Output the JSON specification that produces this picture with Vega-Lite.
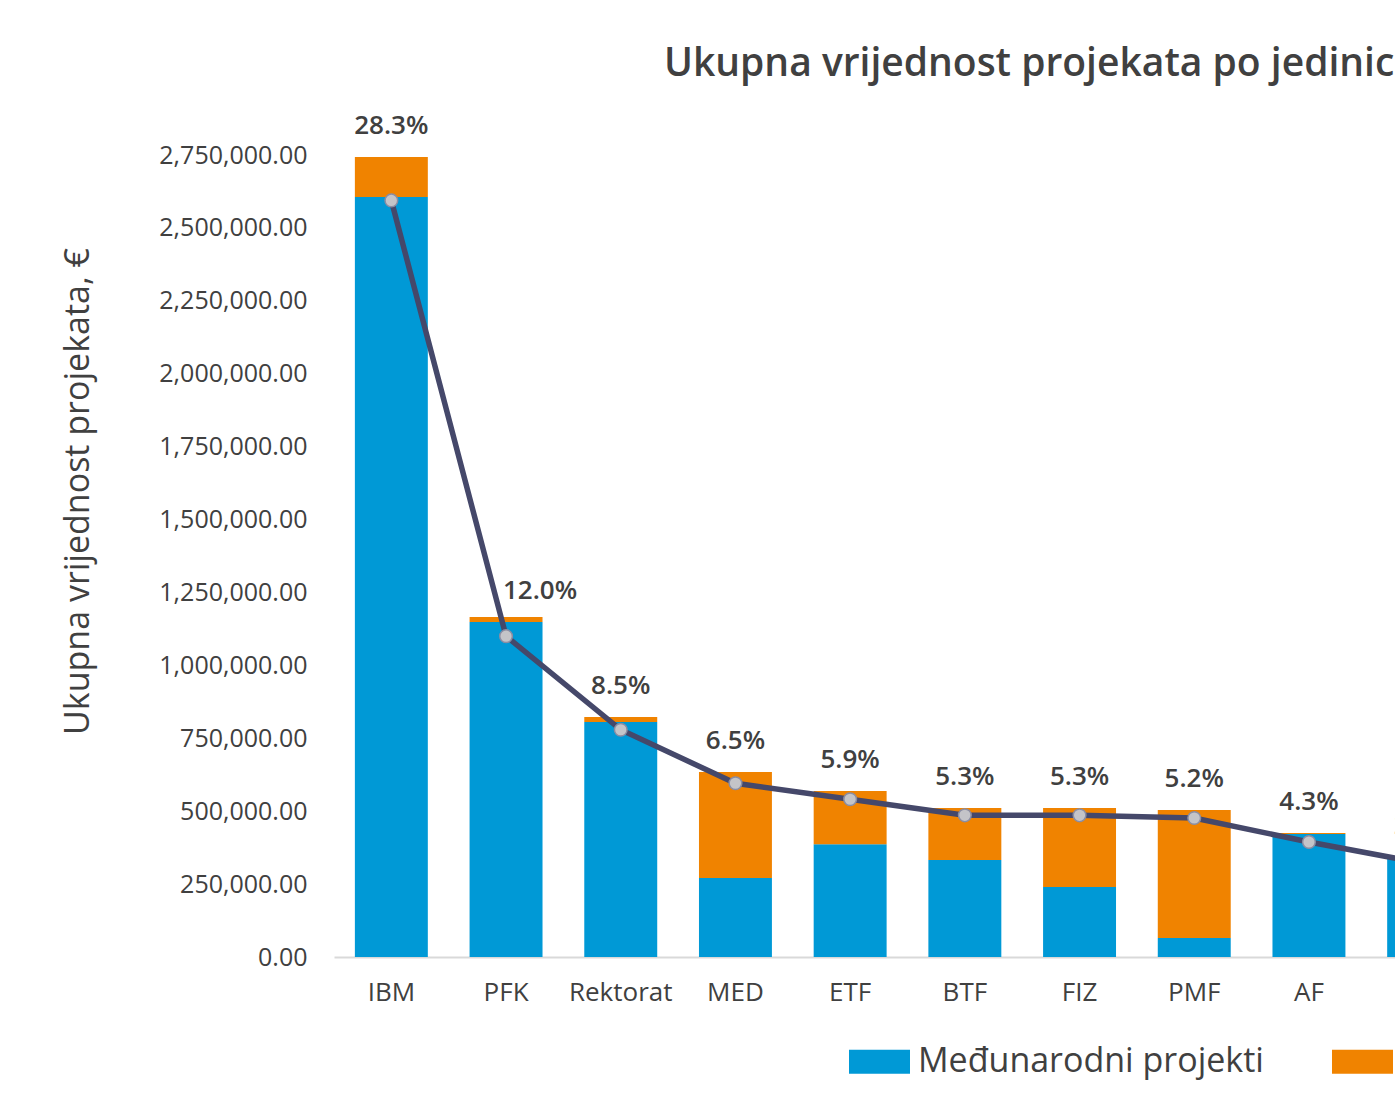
{
  "$schema": "https://vega.github.io/schema/vega-lite/v6.json",
  "autosize": {"type": "none"},
  "width": 1061,
  "height": 802,
  "padding": {"left": 334, "top": 155, "right": 0, "bottom": 152},
  "background": "white",
  "title": {
    "text": "Ukupna vrijednost projekata po jedinici",
    "anchor": "start",
    "frame": "group",
    "dx": 330,
    "dy": -25,
    "fontSize": 39,
    "font": "Open Sans",
    "fontWeight": 600,
    "color": "#404040"
  },
  "datasets": {
    "vrste": [
      {"jedinica": "IBM", "vrsta": "Međunarodni projekti", "rb": 1, "iznos": 2606000},
      {"jedinica": "IBM", "vrsta": "Domaći projekti", "rb": 2, "iznos": 137000},
      {"jedinica": "PFK", "vrsta": "Međunarodni projekti", "rb": 1, "iznos": 1149000},
      {"jedinica": "PFK", "vrsta": "Domaći projekti", "rb": 2, "iznos": 17000},
      {"jedinica": "Rektorat", "vrsta": "Međunarodni projekti", "rb": 1, "iznos": 806000},
      {"jedinica": "Rektorat", "vrsta": "Domaći projekti", "rb": 2, "iznos": 17000},
      {"jedinica": "MED", "vrsta": "Međunarodni projekti", "rb": 1, "iznos": 271000},
      {"jedinica": "MED", "vrsta": "Domaći projekti", "rb": 2, "iznos": 363000},
      {"jedinica": "ETF", "vrsta": "Međunarodni projekti", "rb": 1, "iznos": 387000},
      {"jedinica": "ETF", "vrsta": "Domaći projekti", "rb": 2, "iznos": 182000},
      {"jedinica": "BTF", "vrsta": "Međunarodni projekti", "rb": 1, "iznos": 333000},
      {"jedinica": "BTF", "vrsta": "Domaći projekti", "rb": 2, "iznos": 178000},
      {"jedinica": "FIZ", "vrsta": "Međunarodni projekti", "rb": 1, "iznos": 240000},
      {"jedinica": "FIZ", "vrsta": "Domaći projekti", "rb": 2, "iznos": 271000},
      {"jedinica": "PMF", "vrsta": "Međunarodni projekti", "rb": 1, "iznos": 65000},
      {"jedinica": "PMF", "vrsta": "Domaći projekti", "rb": 2, "iznos": 439000},
      {"jedinica": "AF", "vrsta": "Međunarodni projekti", "rb": 1, "iznos": 422000},
      {"jedinica": "AF", "vrsta": "Domaći projekti", "rb": 2, "iznos": 3000},
      {"jedinica": "MF", "vrsta": "Međunarodni projekti", "rb": 1, "iznos": 340000},
      {"jedinica": "MF", "vrsta": "Domaći projekti", "rb": 2, "iznos": 0}
    ],
    "jedinice": [
      {"jedinica": "IBM", "ukupno": 2743000, "udio": 0.283},
      {"jedinica": "PFK", "ukupno": 1166000, "udio": 0.120},
      {"jedinica": "Rektorat", "ukupno": 823000, "udio": 0.085},
      {"jedinica": "MED", "ukupno": 634000, "udio": 0.065},
      {"jedinica": "ETF", "ukupno": 569000, "udio": 0.059},
      {"jedinica": "BTF", "ukupno": 511000, "udio": 0.053},
      {"jedinica": "FIZ", "ukupno": 511000, "udio": 0.053},
      {"jedinica": "PMF", "ukupno": 504000, "udio": 0.052},
      {"jedinica": "AF", "ukupno": 425000, "udio": 0.043},
      {"jedinica": "MF", "ukupno": 340000, "udio": 0.035}
    ]
  },
  "config": {
    "view": {"stroke": null},
    "font": "Open Sans"
  },
  "resolve": {"scale": {"y": "independent"}},
  "layer": [
    {
      "data": {"name": "vrste"},
      "mark": {"type": "bar"},
      "encoding": {
        "x": {
          "field": "jedinica",
          "type": "nominal",
          "sort": null,
          "scale": {
            "domain": ["IBM", "PFK", "Rektorat", "MED", "ETF", "BTF", "FIZ", "PMF", "AF", "MF"],
            "range": [0, 1147],
            "paddingInner": 0.364,
            "paddingOuter": 0.182
          },
          "axis": {
            "title": null,
            "labelAngle": 0,
            "labelFontSize": 26,
            "labelColor": "#404040",
            "labelFont": "Open Sans",
            "labelPadding": 22,
            "ticks": false,
            "domainColor": "#d9d9d9",
            "domainWidth": 2
          }
        },
        "y": {
          "field": "iznos",
          "type": "quantitative",
          "stack": "zero",
          "scale": {"domain": [0, 2750000], "nice": false},
          "axis": {
            "title": "Ukupna vrijednost projekata, €",
            "titleFontSize": 34,
            "titleFontWeight": "normal",
            "titleColor": "#404040",
            "titleFont": "Open Sans",
            "titleX": -256,
            "titleY": 336,
            "titleAngle": -90,
            "titleAlign": "center",
            "titleBaseline": "middle",
            "format": ",.2f",
            "values": [0, 250000, 500000, 750000, 1000000, 1250000, 1500000, 1750000, 2000000, 2250000, 2500000, 2750000],
            "labelFontSize": 25,
            "labelColor": "#404040",
            "labelFont": "Open Sans",
            "labelPadding": 27,
            "ticks": false,
            "domain": false,
            "grid": false
          }
        },
        "color": {
          "field": "vrsta",
          "type": "nominal",
          "scale": {
            "domain": ["Međunarodni projekti", "Domaći projekti"],
            "range": ["#0099d6", "#f08300"]
          },
          "legend": {
            "title": null,
            "orient": "none",
            "direction": "horizontal",
            "legendX": 515,
            "legendY": 876,
            "padding": 0,
            "symbolType": "M-1,-0.39H1V0.39H-1Z",
            "symbolSize": 3721,
            "symbolStrokeWidth": 0,
            "labelFontSize": 34,
            "labelFont": "Open Sans",
            "labelColor": "#404040",
            "labelLimit": 800,
            "labelOffset": 8,
            "columnPadding": 68
          }
        },
        "order": {"field": "rb", "sort": "ascending"}
      }
    },
    {
      "data": {"name": "jedinice"},
      "mark": {"type": "line", "color": "#45486a", "strokeWidth": 5.5},
      "encoding": {
        "x": {"field": "jedinica", "type": "nominal", "sort": null},
        "y": {
          "field": "udio",
          "type": "quantitative",
          "scale": {"domain": [0, 0.3], "nice": false},
          "axis": null
        }
      }
    },
    {
      "data": {"name": "jedinice"},
      "mark": {"type": "point", "filled": true, "fill": "#c4c4c8", "stroke": "#8a8da3", "strokeWidth": 1.5, "size": 160, "opacity": 1},
      "encoding": {
        "x": {"field": "jedinica", "type": "nominal", "sort": null},
        "y": {
          "field": "udio",
          "type": "quantitative",
          "scale": {"domain": [0, 0.3], "nice": false},
          "axis": null
        }
      }
    },
    {
      "data": {"name": "jedinice"},
      "transform": [{"filter": "datum.jedinica != 'PFK'"}],
      "mark": {"type": "text", "fontSize": 26, "fontWeight": 600, "color": "#404040", "font": "Open Sans", "baseline": "middle", "dy": -31},
      "encoding": {
        "x": {"field": "jedinica", "type": "nominal", "sort": null},
        "y": {
          "field": "ukupno",
          "type": "quantitative",
          "scale": {"domain": [0, 2750000], "nice": false},
          "axis": null
        },
        "text": {"field": "udio", "type": "quantitative", "format": ".1%"}
      }
    },
    {
      "data": {"name": "jedinice"},
      "transform": [{"filter": "datum.jedinica == 'PFK'"}],
      "mark": {"type": "text", "fontSize": 26, "fontWeight": 600, "color": "#404040", "font": "Open Sans", "baseline": "middle", "dy": -26, "dx": 34},
      "encoding": {
        "x": {"field": "jedinica", "type": "nominal", "sort": null},
        "y": {
          "field": "ukupno",
          "type": "quantitative",
          "scale": {"domain": [0, 2750000], "nice": false},
          "axis": null
        },
        "text": {"field": "udio", "type": "quantitative", "format": ".1%"}
      }
    }
  ]
}
